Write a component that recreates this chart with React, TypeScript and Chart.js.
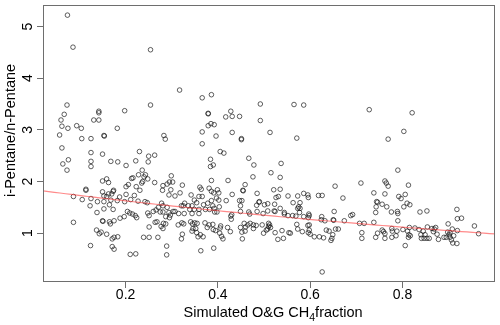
import React, { useEffect, useRef } from "react";
import { Chart, registerables } from "chart.js";

Chart.register(...registerables);

// Simulated O&G CH4 fraction (x) vs i-Pentane/n-Pentane ratio (y)
const upperSamples: [number, number][] = [
  [0.074, 5.22], [0.086, 4.6], [0.254, 4.55], [0.317, 3.77], [0.073, 3.48], [0.254, 3.48], [0.067, 3.3],
  [0.142, 3.36], [0.142, 3.33], [0.198, 3.37], [0.06, 3.19], [0.131, 3.19], [0.142, 3.19], [0.062, 3.07],
  [0.075, 3.03], [0.094, 3.08], [0.104, 3.03], [0.182, 3.03], [0.057, 2.9], [0.105, 2.83], [0.125, 2.83],
  [0.153, 2.89], [0.154, 2.88], [0.283, 2.89], [0.286, 2.82], [0.062, 2.65],
  [0.366, 3.62], [0.386, 3.68], [0.492, 3.5], [0.565, 3.49], [0.586, 3.48], [0.379, 3.32], [0.379, 3.31],
  [0.428, 3.36], [0.417, 3.25], [0.431, 3.26], [0.447, 3.26], [0.492, 3.18], [0.379, 3.08], [0.385, 3.12],
  [0.392, 3.1], [0.366, 2.96], [0.396, 2.88], [0.431, 2.95], [0.513, 2.95], [0.451, 2.83], [0.451, 2.81],
  [0.571, 2.84], [0.366, 2.73],
  [0.728, 3.39], [0.821, 3.33], [0.803, 2.97], [0.769, 2.82],
];

const leftSamples: [number, number][] = [
  [0.125, 2.56], [0.15, 2.53], [0.23, 2.58], [0.25, 2.49], [0.064, 2.34], [0.076, 2.42], [0.073, 2.22],
  [0.125, 2.39], [0.125, 2.29], [0.168, 2.39], [0.183, 2.38], [0.201, 2.31], [0.222, 2.4], [0.249, 2.38],
  [0.236, 2.22], [0.228, 2.13], [0.216, 2.07], [0.243, 2.13], [0.24, 2.09], [0.248, 2.05], [0.237, 2.0],
  [0.235, 1.97], [0.15, 2.01], [0.159, 2.05], [0.163, 1.98], [0.213, 2.06], [0.206, 1.94], [0.201, 1.9],
  [0.223, 1.9], [0.231, 1.83], [0.114, 1.85], [0.114, 1.83], [0.174, 1.83], [0.173, 1.81], [0.15, 1.8],
  [0.17, 1.76], [0.163, 1.76], [0.159, 1.71], [0.153, 1.72], [0.187, 1.7], [0.182, 1.63], [0.201, 1.75],
  [0.087, 1.71], [0.106, 1.65], [0.125, 1.67], [0.139, 1.61], [0.153, 1.61], [0.168, 1.64], [0.219, 1.73],
  [0.123, 1.53], [0.138, 1.4], [0.153, 1.47], [0.173, 1.46], [0.165, 1.55], [0.198, 1.61], [0.211, 1.65],
  [0.227, 1.62], [0.188, 1.29], [0.197, 1.32], [0.204, 1.42], [0.209, 1.39], [0.215, 1.37], [0.221, 1.34],
  [0.224, 1.3], [0.248, 1.39], [0.251, 1.34], [0.242, 1.61], [0.247, 1.59], [0.087, 1.21], [0.15, 1.24],
  [0.151, 1.23], [0.165, 1.22], [0.167, 1.18], [0.175, 1.24], [0.137, 1.06], [0.143, 0.99], [0.147, 1.02],
  [0.159, 0.98], [0.171, 0.89], [0.175, 0.92], [0.183, 0.93], [0.239, 0.92], [0.251, 0.92], [0.251, 1.12],
  [0.124, 0.76], [0.171, 0.74], [0.175, 0.69], [0.21, 0.59], [0.222, 0.6],
];

const middleSamples: [number, number][] = [
  [0.263, 2.51], [0.384, 2.43], [0.405, 2.58], [0.413, 2.55], [0.467, 2.45], [0.478, 2.32], [0.384, 2.29],
  [0.39, 2.32], [0.386, 2.02], [0.422, 2.02], [0.476, 2.09], [0.299, 2.11], [0.295, 1.99], [0.302, 1.99],
  [0.29, 1.95], [0.281, 1.92], [0.263, 1.98], [0.323, 1.93], [0.298, 1.84], [0.28, 1.83], [0.294, 1.74],
  [0.307, 1.72], [0.318, 1.78], [0.342, 1.74], [0.361, 1.89], [0.364, 1.85], [0.359, 1.71], [0.366, 1.71],
  [0.381, 1.87], [0.386, 1.81], [0.391, 1.78], [0.399, 1.84], [0.402, 1.78], [0.397, 1.68], [0.402, 1.64],
  [0.431, 1.75], [0.454, 1.83], [0.455, 1.82], [0.459, 1.94], [0.485, 1.77], [0.447, 1.63], [0.452, 1.63],
  [0.489, 1.6], [0.49, 1.61], [0.449, 1.53], [0.484, 1.54], [0.418, 1.63], [0.386, 1.63], [0.389, 1.53],
  [0.378, 1.58], [0.369, 1.55], [0.373, 1.46], [0.382, 1.46], [0.392, 1.48], [0.393, 1.41], [0.398, 1.41],
  [0.403, 1.51], [0.354, 1.59], [0.349, 1.64], [0.336, 1.53], [0.344, 1.53], [0.339, 1.46], [0.349, 1.46],
  [0.359, 1.46], [0.344, 1.38], [0.359, 1.38], [0.327, 1.38], [0.315, 1.38], [0.307, 1.42], [0.303, 1.42],
  [0.321, 1.53], [0.325, 1.53], [0.328, 1.58], [0.278, 1.58], [0.281, 1.53], [0.271, 1.5], [0.266, 1.45],
  [0.275, 1.41], [0.281, 1.41], [0.26, 1.42], [0.29, 1.5], [0.294, 1.4], [0.297, 1.35], [0.295, 1.3],
  [0.287, 1.32], [0.264, 1.21], [0.268, 1.22], [0.282, 1.19], [0.287, 1.18], [0.277, 1.13], [0.281, 1.09],
  [0.27, 0.92], [0.314, 1.16], [0.322, 1.2], [0.326, 1.18], [0.323, 0.98], [0.321, 0.89], [0.341, 1.22],
  [0.345, 1.18], [0.35, 1.2], [0.355, 1.19], [0.346, 1.09], [0.352, 1.09], [0.344, 1.04], [0.354, 1.01],
  [0.362, 0.97], [0.357, 0.93], [0.368, 0.93], [0.372, 1.2], [0.377, 1.11], [0.381, 1.16], [0.389, 1.17],
  [0.39, 1.07], [0.395, 1.05], [0.405, 1.1], [0.406, 1.14], [0.404, 1.0], [0.408, 0.94], [0.411, 0.89],
  [0.421, 1.11], [0.428, 1.33], [0.429, 1.27], [0.427, 1.03], [0.43, 1.36], [0.449, 1.11], [0.452, 1.02],
  [0.459, 1.04], [0.46, 1.12], [0.465, 1.16], [0.457, 1.19], [0.47, 1.19], [0.477, 1.16], [0.477, 1.09],
  [0.483, 1.15], [0.453, 0.89], [0.391, 0.71], [0.363, 0.66], [0.289, 0.75], [0.289, 0.58], [0.467, 1.41],
  [0.469, 1.37], [0.449, 1.42], [0.485, 1.42],
];

const rightSamples: [number, number][] = [
  [0.537, 2.35], [0.515, 2.17], [0.535, 2.08], [0.521, 1.84], [0.535, 1.85], [0.654, 1.91], [0.71, 1.97],
  [0.738, 1.78], [0.501, 1.55], [0.508, 1.57], [0.523, 1.56], [0.526, 1.69], [0.531, 1.71], [0.552, 1.72],
  [0.563, 1.59], [0.573, 1.72], [0.578, 1.59], [0.586, 1.77], [0.595, 1.74], [0.596, 1.69], [0.618, 1.73],
  [0.626, 1.73], [0.671, 1.68], [0.498, 1.38], [0.508, 1.43], [0.522, 1.43], [0.524, 1.42], [0.535, 1.48],
  [0.544, 1.4], [0.544, 1.37], [0.552, 1.34], [0.562, 1.34], [0.569, 1.33], [0.573, 1.48], [0.578, 1.48],
  [0.575, 1.51], [0.577, 1.4], [0.586, 1.32], [0.597, 1.37], [0.598, 1.34], [0.596, 1.3], [0.625, 1.32],
  [0.624, 1.26], [0.632, 1.24], [0.652, 1.42], [0.65, 1.26], [0.651, 1.25], [0.674, 1.24], [0.688, 1.34],
  [0.692, 1.36], [0.707, 1.19], [0.717, 1.19], [0.738, 1.21], [0.496, 1.16], [0.499, 1.0], [0.505, 1.06],
  [0.51, 1.19], [0.512, 1.16], [0.514, 1.11], [0.51, 1.13], [0.508, 1.08], [0.524, 1.01], [0.53, 0.88],
  [0.539, 1.05], [0.542, 0.9], [0.554, 1.01], [0.557, 1.0], [0.571, 1.17], [0.573, 1.08], [0.583, 1.03],
  [0.595, 1.15], [0.598, 1.16], [0.598, 1.06], [0.596, 1.01], [0.6, 0.98], [0.609, 0.93], [0.62, 0.93],
  [0.629, 0.91], [0.635, 1.06], [0.641, 1.04], [0.647, 0.9], [0.645, 0.86], [0.649, 0.97], [0.655, 1.08],
  [0.661, 1.08], [0.712, 1.01], [0.712, 0.9], [0.626, 0.25],
  [0.79, 2.22], [0.762, 2.01], [0.765, 1.97], [0.769, 1.91], [0.813, 1.93], [0.762, 1.76], [0.792, 1.71],
  [0.797, 1.67], [0.806, 1.75], [0.744, 1.61], [0.746, 1.6], [0.756, 1.56], [0.766, 1.51], [0.81, 1.58],
  [0.816, 1.55], [0.803, 1.51], [0.743, 1.51], [0.742, 1.4], [0.776, 1.41], [0.789, 1.42], [0.79, 1.38],
  [0.838, 1.41], [0.853, 1.43], [0.79, 1.24], [0.918, 1.46], [0.919, 1.28], [0.928, 1.29], [0.899, 1.18],
  [0.956, 1.14], [0.965, 0.99], [0.919, 1.05], [0.746, 1.0], [0.742, 0.92], [0.756, 1.06], [0.759, 1.03],
  [0.762, 0.99], [0.762, 0.9], [0.777, 1.09], [0.778, 1.04], [0.777, 0.92], [0.786, 0.95], [0.788, 1.04],
  [0.801, 1.07], [0.811, 1.04], [0.815, 1.11], [0.814, 0.97], [0.817, 0.95], [0.813, 0.92], [0.827, 1.1],
  [0.836, 1.07], [0.806, 0.76], [0.84, 0.97], [0.841, 0.9], [0.845, 1.04], [0.849, 0.97], [0.847, 0.9],
  [0.853, 0.9], [0.854, 1.12], [0.858, 0.9], [0.864, 1.09], [0.867, 1.03], [0.869, 1.08], [0.872, 1.11],
  [0.875, 0.98], [0.878, 0.88], [0.89, 0.92], [0.895, 0.92], [0.898, 1.02], [0.901, 0.97], [0.903, 0.92],
  [0.906, 0.87], [0.909, 0.81], [0.911, 0.95], [0.918, 0.8], [0.908, 1.08], [0.903, 1.01],
];

// Fitted trend: ln(ratio) = a + b * fraction
const fitLogIntercept = 0.611;
const fitLogSlope = -0.625;

const xTicks = [0.2, 0.4, 0.6, 0.8];
const yTicks = [1, 2, 3, 4, 5];
const xRange = [0.021, 1.001];
const yRange = [0.055, 5.42];

const xTitleMain = "Simulated O&G CH";
const xTitleSub = "4";
const xTitleTail = "fraction";
const yTitle = "i-Pentane/n-Pentane";

const FONT = "'Liberation Sans', Arial, Helvetica, sans-serif";
const AXIS_COLOR = "#6e6e6e";

export default function App() {
  const ref = useRef<HTMLCanvasElement>(null);

  useEffect(() => {
    const canvas = ref.current;
    if (!canvas) return;
    const all = [...upperSamples, ...leftSamples, ...middleSamples, ...rightSamples];
    const points = all.map(([x, y]) => ({ x, y }));
    const curve: { x: number; y: number }[] = [];
    const steps = 80;
    for (let i = 0; i <= steps; i++) {
      const x = xRange[0] + ((xRange[1] - xRange[0]) * i) / steps;
      curve.push({ x, y: Math.exp(fitLogIntercept + fitLogSlope * x) });
    }

    const decor = {
      id: "decor",
      afterDraw(chart: any) {
        const { ctx, chartArea: a } = chart;
        const yScale = chart.scales.y;
        ctx.save();
        ctx.strokeStyle = AXIS_COLOR;
        ctx.lineWidth = 1;
        ctx.strokeRect(
          Math.round(a.left) + 0.5,
          Math.round(a.top) + 0.5,
          Math.round(a.right) - Math.round(a.left) - 1,
          Math.round(a.bottom) - Math.round(a.top) - 1
        );
        ctx.fillStyle = "#000";
        const big = `14.5px ${FONT}`;
        const small = `10.5px ${FONT}`;
        // rotated y tick labels (R style, parallel to the axis)
        ctx.font = `14px ${FONT}`;
        ctx.textAlign = "center";
        ctx.textBaseline = "middle";
        for (const v of yTicks) {
          const py = yScale.getPixelForValue(v);
          ctx.save();
          ctx.translate(a.left - 15, py);
          ctx.rotate(-Math.PI / 2);
          ctx.fillText(String(v), 0, 0);
          ctx.restore();
        }
        // x title with subscript
        ctx.font = big;
        const w1 = ctx.measureText(xTitleMain).width;
        const w3 = ctx.measureText(xTitleTail).width;
        ctx.font = small;
        const w2 = ctx.measureText(xTitleSub).width;
        const total = w1 + w2 + w3;
        let x = (a.left + a.right) / 2 + 4 - total / 2;
        const baseY = a.bottom + 35;
        ctx.textAlign = "left";
        ctx.textBaseline = "alphabetic";
        ctx.font = big;
        ctx.fillText(xTitleMain, x, baseY);
        x += w1;
        ctx.font = small;
        ctx.fillText(xTitleSub, x, baseY + 4);
        x += w2;
        ctx.font = big;
        ctx.fillText(xTitleTail, x, baseY);
        // y title
        ctx.translate(11, (a.top + a.bottom) / 2 - 13);
        ctx.rotate(-Math.PI / 2);
        ctx.textAlign = "center";
        ctx.textBaseline = "middle";
        ctx.font = big;
        ctx.fillText(yTitle, 0, 0);
        ctx.restore();
      },
    };

    const chart = new Chart(canvas, {
      type: "scatter",
      data: {
        datasets: [
          {
            type: "line",
            data: curve,
            borderColor: "rgba(255, 60, 60, 0.6)",
            borderWidth: 1.2,
            pointRadius: 0,
            fill: false,
            tension: 0,
          } as any,
          {
            data: points,
            pointRadius: 2.3,
            pointBorderWidth: 0.8,
            pointBorderColor: "rgba(20,20,20,0.85)",
            pointBackgroundColor: "rgba(0,0,0,0)",
            borderColor: "rgba(20,20,20,0.85)",
            backgroundColor: "rgba(0,0,0,0)",
          },
        ],
      },
      options: {
        animation: false,
        responsive: true,
        maintainAspectRatio: false,
        layout: { padding: { left: 0, top: 4, right: 4, bottom: 0 } },
        plugins: { legend: { display: false }, tooltip: { enabled: false } },
        scales: {
          x: {
            type: "linear",
            min: xRange[0],
            max: xRange[1],
            afterBuildTicks: (s: any) => {
              s.ticks = xTicks.map((v) => ({ value: v }));
            },
            afterFit: (s: any) => {
              s.height = 43;
            },
            ticks: {
              color: "#000",
              font: { family: FONT, size: 14 },
              padding: -1,
              maxRotation: 0,
              callback: (v: any) => String(v),
            },
            grid: { drawOnChartArea: false, drawTicks: true, tickLength: 6, color: AXIS_COLOR, lineWidth: 1 },
            border: { display: false },
          },
          y: {
            type: "linear",
            min: yRange[0],
            max: yRange[1],
            afterBuildTicks: (s: any) => {
              s.ticks = yTicks.map((v) => ({ value: v }));
            },
            afterFit: (s: any) => {
              s.width = 43;
            },
            ticks: { display: false },
            grid: { drawOnChartArea: false, drawTicks: true, tickLength: 6, color: AXIS_COLOR, lineWidth: 1 },
            border: { display: false },
          },
        },
      },
      plugins: [decor],
    });
    return () => chart.destroy();
  }, []);

  return (
    <div style={{ position: "fixed", left: 0, top: 0, width: 500, height: 325, background: "#fff" }}>
      <canvas ref={ref} />
    </div>
  );
}
